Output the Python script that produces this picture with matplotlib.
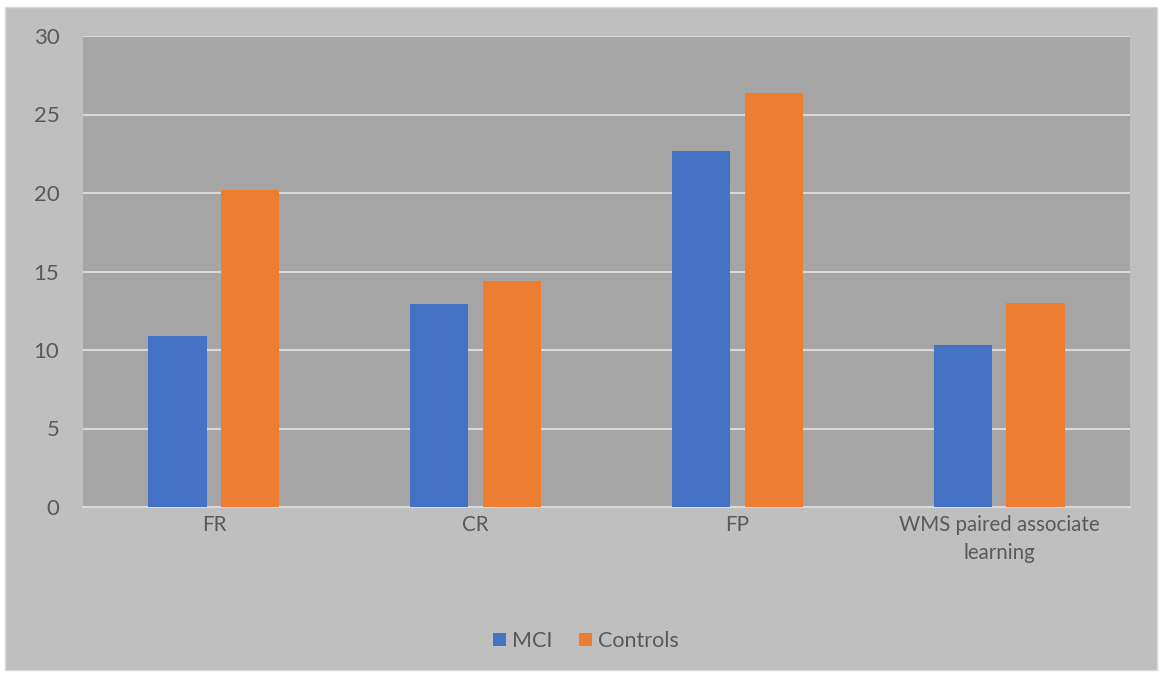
import numpy as np
import matplotlib.pyplot as plt
from matplotlib.patches import Rectangle

categories = ["FR", "CR", "FP", "WMS paired associate\nlearning"]
mci = [10.9, 12.9, 22.7, 10.35]
controls = [20.2, 14.4, 26.35, 13.0]
yticks = [0, 5, 10, 15, 20, 25, 30]

plt.rcParams['font.family'] = ['Lato', 'DejaVu Sans']
text_col = '#595959'

fig = plt.figure(figsize=(11.6, 6.78), dpi=100, facecolor='white')
# grey chart area with thin border
fig.patches.append(Rectangle((5 / 1160, 8 / 678), 1152 / 1160, 663 / 678,
                             transform=fig.transFigure, facecolor='#BFBFBF',
                             edgecolor='#D9D9D9', linewidth=1, zorder=-1))

ax = fig.add_axes([83 / 1160, 1 - 507 / 678, 1047 / 1160, 471 / 678])
ax.set_facecolor('#A5A5A5')

x = np.arange(len(categories))
w = 0.222
off = 0.139
ax.bar(x - off, mci, w, color='#4472C4', label='MCI', zorder=3)
ax.bar(x + off, controls, w, color='#ED7D31', label='Controls', zorder=3)

ax.set_xlim(-0.5, len(categories) - 0.5)
ax.set_ylim(0, 30)
ax.set_yticks(yticks)
ax.yaxis.grid(True, color='#D9D9D9', linewidth=1.5, zorder=1)
ax.set_axisbelow(True)
for s in ['top', 'right', 'left']:
    ax.spines[s].set_visible(False)
ax.spines['bottom'].set_color('#D9D9D9')
ax.spines['bottom'].set_linewidth(1.5)

ax.set_xticks(x)
ax.set_xticklabels(categories, fontsize=14.8, color=text_col, linespacing=1.5)
ax.tick_params(axis='x', length=0, pad=6)
ax.tick_params(axis='y', length=0, pad=17, labelsize=16, labelcolor=text_col)

leg = fig.legend(loc='center', bbox_to_anchor=(586 / 1160, 1 - 641 / 678),
                 ncol=2, frameon=False, fontsize=15.5, handlelength=0.6,
                 handleheight=0.6, handletextpad=0.3, columnspacing=1.2)
for t in leg.get_texts():
    t.set_color(text_col)

fig.savefig('out.png', dpi=100)
